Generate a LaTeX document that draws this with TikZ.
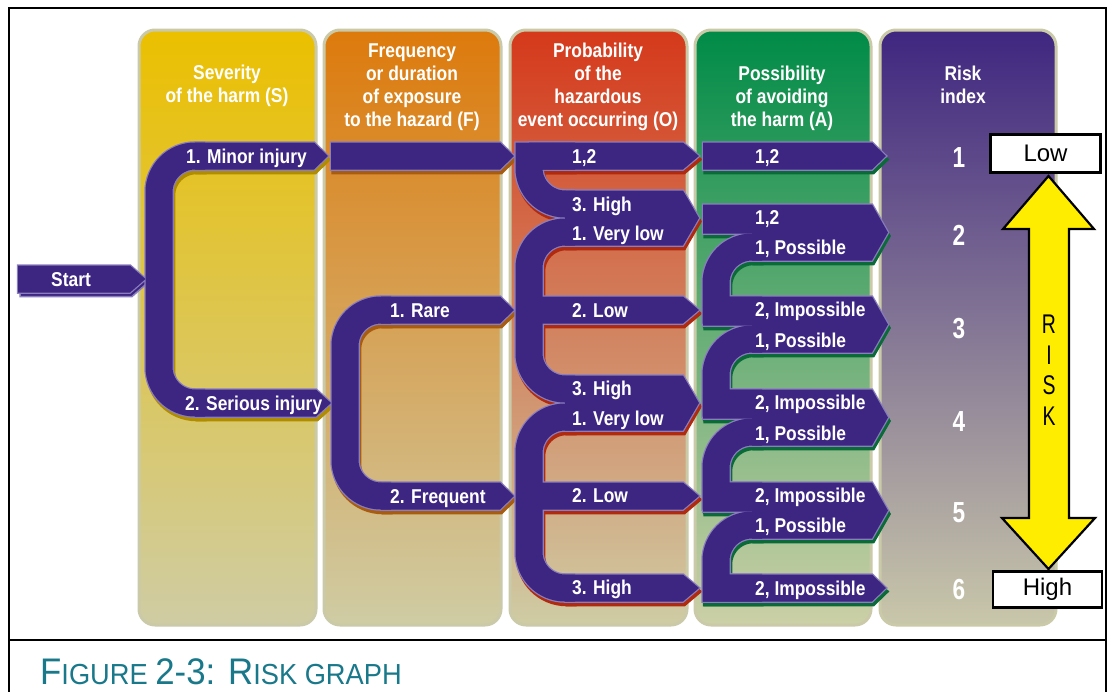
\documentclass[tikz,border=0pt]{standalone}
\usepackage{fontspec}
\setmainfont{Liberation Sans}
\newfontfamily\cond[FakeStretch=0.87]{Liberation Sans}
\newfontfamily\condn[FakeStretch=0.78]{Liberation Sans}
\newfontfamily\narrowf[FakeStretch=0.72]{Liberation Sans}
\newfontfamily\capfont[FakeStretch=0.94]{Liberation Sans}
\definecolor{purp}{HTML}{3D2681}
\definecolor{lav}{HTML}{8B7EBE}
\definecolor{bord}{HTML}{CACAA8}
\definecolor{topS}{HTML}{EBC000}
\definecolor{topF}{HTML}{DD7A0C}
\definecolor{topO}{HTML}{D5391B}
\definecolor{topA}{HTML}{008B47}
\definecolor{topR}{HTML}{3F2680}
\definecolor{botC}{HTML}{CFCCA4}
\definecolor{botA}{HTML}{CCD0A6}
\definecolor{botR}{HTML}{C9C7AA}
\definecolor{shS}{HTML}{B08C00}
\definecolor{shF}{HTML}{A85C10}
\definecolor{shO}{HTML}{B02A10}
\definecolor{shA}{HTML}{0A6B38}
\definecolor{riskyellow}{HTML}{FFED00}
\definecolor{capteal}{HTML}{19788A}

% ---- shape sets: #1 = polygon style, #2 = band stroke style
\newcommand\shapesStart[1]{%
 \path[#1] (18,265.5) -- (130,265.5) -- (145.5,279) -- (130,292.5) -- (18,292.5) -- cycle;}
\newcommand\shapesS[2]{%
 \path[#1] (195,142.5) -- (314,142.5) -- (328,156) -- (314,169.5) -- (195,169.5) -- cycle;
 \path[#1] (195,389.5) -- (316,389.5) -- (331,403) -- (316,416.5) -- (195,416.5) -- cycle;
 \path[#2] (205,156) -- (195,156) .. controls (175.1,156) and (159,172.1) .. (159,192) -- (159,367) .. controls (159,386.9) and (175.1,403) .. (195,403) -- (205,403);}
\newcommand\shapesF[2]{%
 \path[#1] (331,142.5) -- (500,142.5) -- (514,156) -- (500,169.5) -- (331,169.5) -- cycle;
 \path[#1] (381,296.5) -- (500,296.5) -- (514,310) -- (500,323.5) -- (381,323.5) -- cycle;
 \path[#1] (381,482.5) -- (500,482.5) -- (514,496) -- (500,509.5) -- (381,509.5) -- cycle;
 \path[#2] (391,310) -- (381,310) .. controls (361.1,310) and (345,325.9) .. (345,346) -- (345,460) .. controls (345,479.9) and (361.1,496) .. (381,496) -- (391,496);}
\newcommand\shapesO[2]{%
 \path[#1] (529,142.5) -- (683,142.5) -- (699,156) -- (683,169.5) -- (529,169.5) -- cycle;
 \path[#1] (565,190.5) -- (683,190.5) -- (699,218) -- (683,245.5) -- (565,245.5) -- cycle;
 \path[#1] (529,296.5) -- (683,296.5) -- (699,310) -- (683,323.5) -- (529,323.5) -- cycle;
 \path[#1] (565,375.5) -- (683,375.5) -- (699,403) -- (683,430.5) -- (565,430.5) -- cycle;
 \path[#1] (529,482.5) -- (683,482.5) -- (699,496) -- (683,509.5) -- (529,509.5) -- cycle;
 \path[#1] (565,574.5) -- (683,574.5) -- (699,588) -- (683,601.5) -- (565,601.5) -- cycle;
 \path[#2] (575,204) -- (565,204) .. controls (545.1,204) and (529,187.9) .. (529,168) -- (529,156) -- (575,156);
 \path[#2] (575,232) -- (565,232) .. controls (545.1,232) and (529,248.1) .. (529,268) -- (529,353) .. controls (529,372.9) and (545.1,389) .. (565,389) -- (575,389);
 \path[#2] (575,417) -- (565,417) .. controls (545.1,417) and (529,433.1) .. (529,453) -- (529,552) .. controls (529,571.9) and (545.1,588) .. (565,588) -- (575,588);}
\newcommand\shapesA[2]{%
 \path[#1] (703,142.5) -- (872,142.5) -- (886,156) -- (872,169.5) -- (703,169.5) -- cycle;
 \path[#1] (703,204.5) -- (872,204.5) -- (888,232.5) -- (872,260.5) -- (752,260.5) -- (752,233.5) -- (703,233.5) -- cycle;
 \path[#1] (703,296.5) -- (872,296.5) -- (888,324.5) -- (872,352.5) -- (752,352.5) -- (752,325.5) -- (703,325.5) -- cycle;
 \path[#1] (703,389.5) -- (872,389.5) -- (888,417.5) -- (872,445.5) -- (752,445.5) -- (752,418.5) -- (703,418.5) -- cycle;
 \path[#1] (703,482.5) -- (872,482.5) -- (888,510.5) -- (872,538.5) -- (752,538.5) -- (752,511.5) -- (703,511.5) -- cycle;
 \path[#1] (703,574.5) -- (872,574.5) -- (886,588) -- (872,601.5) -- (703,601.5) -- cycle;
 \path[#2] (762,247) -- (752,247) .. controls (732.1,247) and (716,262.9) .. (716,283) -- (716,310) -- (762,310);
 \path[#2] (762,339) -- (752,339) .. controls (732.1,339) and (716,354.9) .. (716,375) -- (716,403) -- (762,403);
 \path[#2] (762,432) -- (752,432) .. controls (732.1,432) and (716,447.9) .. (716,468) -- (716,496) -- (762,496);
 \path[#2] (762,525) -- (752,525) .. controls (732.1,525) and (716,540.9) .. (716,561) -- (716,588) -- (762,588);}

\tikzset{
 colbox/.style={draw=bord, line width=3, rounded corners=16},
 shpoly/.style={fill=#1, draw=#1, line width=2.5, line join=miter, shift={(1.5,3.5)}},
 shline/.style={draw=#1, line width=29.5, line join=miter, shift={(1.5,3.5)}},
 lpoly/.style={fill=lav, draw=lav, line width=2.5, line join=miter},
 lline/.style={draw=lav, line width=29.5, line join=miter},
 ppoly/.style={fill=purp},
 pline/.style={draw=purp, line width=27, line join=miter},
 head/.style={font=\cond\bfseries\fontsize{20}{23}\selectfont, text=white, align=center, inner sep=0, anchor=north},
 lbl/.style={font=\cond\bfseries\fontsize{20}{23}\selectfont, text=white, inner sep=0, anchor=base west},
 rnum/.style={font=\condn\bfseries\fontsize{29}{30}\selectfont, text=white, inner sep=0, anchor=base},
 lhbox/.style={draw=black, line width=2.3, fill=white, font=\fontsize{24}{26}\selectfont},
}

\begin{document}
\begin{tikzpicture}[x=1pt,y=-1pt]
\useasboundingbox (0,0) rectangle (1108,691);
\fill[white] (0,0) rectangle (1108,691);

% columns
\path[colbox, top color=topS, bottom color=botC] (139,30) rectangle (316,625);
\path[colbox, top color=topF, bottom color=botC] (324,30) rectangle (501,625);
\path[colbox, top color=topO, bottom color=botC] (510,30) rectangle (687,625);
\path[colbox, top color=topA, bottom color=botA] (695,30) rectangle (871,625);
\path[colbox, top color=topR, bottom color=botR] (880,30) rectangle (1056,625);

% headers
\node[head] (hS) at (227,64.5) {\rule{0pt}{15pt}Severity\\of the harm (S)};
\node[head] (hF) at (412,42) {\rule{0pt}{15pt}Frequency\\or duration\\of exposure\\to the hazard (F)};
\node[head] (hO) at (598,42) {\rule{0pt}{15pt}Probability\\of the\\hazardous\\event occurring (O)};
\node[head] (hA) at (782,65) {\rule{0pt}{15pt}Possibility\\of avoiding\\the harm (A)};
\node[head] (hR) at (963,65) {\rule{0pt}{15pt}Risk\\index};

% shadows
\shapesStart{fill=purp, draw=lav, line width=1.5, shift={(2,4)}}
\shapesS{shpoly=shS}{shline=shS}
\shapesF{shpoly=shF}{shline=shF}
\shapesO{shpoly=shO}{shline=shO}
\shapesA{shpoly=shA}{shline=shA}
% outlines
\shapesStart{lpoly}
\shapesS{lpoly}{lline}
\shapesF{lpoly}{lline}
\shapesO{lpoly}{lline}
\shapesA{lpoly}{lline}
% fills
\shapesStart{ppoly}
\shapesS{ppoly}{pline}
\shapesF{ppoly}{pline}
\shapesO{ppoly}{pline}
\shapesA{ppoly}{pline}

% labels
\node[lbl, anchor=base] (start) at (71,286) {Start};
\node[lbl] (s1) at (186,163) {1. Minor injury};
\node[lbl] (s2) at (185,410) {2. Serious injury};
\node[lbl] (f1) at (390,317) {1. Rare};
\node[lbl] (f2) at (390,503) {2. Frequent};
\node[lbl] (o1) at (572,163) {1,2};
\node[lbl] (o2) at (572,211) {3. High};
\node[lbl] (o3) at (572,240) {1. Very low};
\node[lbl] (o4) at (572,317) {2. Low};
\node[lbl] (o5) at (572,395) {3. High};
\node[lbl] (o6) at (572,425) {1. Very low};
\node[lbl] (o7) at (572,502) {2. Low};
\node[lbl] (o8) at (572,594) {3. High};
\node[lbl] (a1) at (755,163) {1,2};
\node[lbl] (a2) at (755,224) {1,2};
\node[lbl] (a3) at (755,254) {1, Possible};
\node[lbl] (a4) at (755,316) {2, Impossible};
\node[lbl] (a5) at (755,347) {1, Possible};
\node[lbl] (a6) at (755,409) {2, Impossible};
\node[lbl] (a7) at (755,440) {1, Possible};
\node[lbl] (a8) at (755,502) {2, Impossible};
\node[lbl] (a9) at (755,532) {1, Possible};
\node[lbl] (a10) at (755,595) {2, Impossible};

% risk index numbers
\node[rnum] (r1) at (959,167) {1};
\node[rnum] (r2) at (959,245) {2};
\node[rnum] (r3) at (959,338) {3};
\node[rnum] (r4) at (959,431) {4};
\node[rnum] (r5) at (959,522) {5};
\node[rnum] (r6) at (959,599) {6};

% risk arrow
\path[fill=riskyellow, draw=black, line width=2.2, line join=miter]
 (1048.5,176) -- (1094,229) -- (1069,229) -- (1069,518) -- (1095,518) -- (1048.5,569)
 -- (1002,518) -- (1029,518) -- (1029,229) -- (1003,229) -- cycle;
\node[font=\narrowf\fontsize{27}{30.5}\selectfont, align=center, inner sep=0] (risk) at (1049,370) {R\\I\\S\\K};
\node[lhbox, minimum width=110, minimum height=38, inner sep=0] (low) at (1045.5,153.5) {Low};
\node[lhbox, minimum width=109, minimum height=36, inner sep=0] (high) at (1047.5,589.5) {High};

% frame
\draw[line width=2.5] (9,700) -- (9,8) -- (1106,8) -- (1106,700);
\draw[line width=2.5] (9,640) -- (1106,640);
\node[anchor=base west, inner sep=0, text=capteal, font=\capfont] (cap) at (40,684)
 {\fontsize{37}{40}\selectfont F\fontsize{29}{30}\selectfont IGURE \fontsize{37}{40}\selectfont 2-3: R\fontsize{29}{30}\selectfont ISK GRAPH};
\end{tikzpicture}
\end{document}
